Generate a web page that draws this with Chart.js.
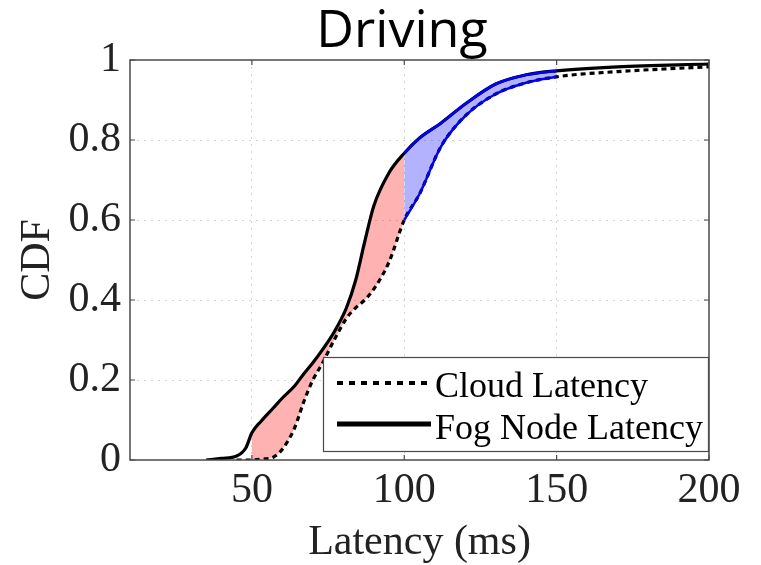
<!DOCTYPE html>
<html>
<head>
<meta charset="utf-8">
<title>Driving</title>
<script src="https://cdn.jsdelivr.net/npm/chart.js@4/dist/chart.umd.min.js"></script>
<style>
    html, body { margin: 0; padding: 0; background: #fff; }
    #wrap { width: 761px; height: 565px; }
</style>
</head>
<body>
<div id="wrap"><canvas id="cdfChart" width="761" height="565"></canvas></div>
<script>
// Data
const latency = [35, 40, 45, 48, 50, 53, 57, 60, 64, 67, 70, 73, 77, 81, 84, 87, 90, 95, 100, 105, 112, 120, 130, 140, 150, 170, 200];
const fogCdf = [0.0, 0.004, 0.01, 0.03, 0.068, 0.097, 0.13, 0.155, 0.185, 0.215, 0.243, 0.274, 0.32, 0.38, 0.448, 0.545, 0.635, 0.718, 0.767, 0.805, 0.842, 0.89, 0.94, 0.963, 0.973, 0.983, 0.99];
const cloudCdf = [null, null, 0.0, 0.0, 0.0, 0.002, 0.007, 0.027, 0.08, 0.145, 0.2, 0.24, 0.3, 0.354, 0.38, 0.4, 0.427, 0.495, 0.6, 0.665, 0.783, 0.86, 0.915, 0.943, 0.958, 0.971, 0.983];
const xTicks = [50, 100, 150, 200];
const yTicks = [0, 0.2, 0.4, 0.6, 0.8, 1];
const redRange = [50, 100];
const blueRange = [100, 150];
const seriesLabels = ['Cloud Latency', 'Fog Node Latency'];

const serif = '"Liberation Serif", "Times New Roman", serif';

// Build {x, y} points, optionally keeping only a latency range
function points(values, range) {
    return latency.map((x, i) => {
        const inside = !range || (x >= range[0] && x <= range[1]);
        return { x: x, y: inside ? values[i] : null };
    });
}

function setTicks(scale, list) {
    scale.ticks = list.map(v => ({ value: v }));
}

// Frame, inward tick marks, title and legend box (MATLAB look)
const decorPlugin = {
    id: 'decor',
    afterDraw(chart) {
        const ctx = chart.ctx;
        const a = chart.chartArea;
        const xs = chart.scales.x;
        const ys = chart.scales.y;
        ctx.save();

        // frame
        ctx.strokeStyle = '#4a4a4a';
        ctx.lineWidth = 1.5;
        ctx.setLineDash([]);
        ctx.strokeRect(a.left, a.top, a.right - a.left, a.bottom - a.top);

        // inward ticks on all sides
        ctx.lineWidth = 1.2;
        ctx.beginPath();
        xTicks.forEach(v => {
            const px = xs.getPixelForValue(v);
            ctx.moveTo(px, a.bottom); ctx.lineTo(px, a.bottom - 5);
            ctx.moveTo(px, a.top); ctx.lineTo(px, a.top + 5);
        });
        yTicks.forEach(v => {
            const py = ys.getPixelForValue(v);
            ctx.moveTo(a.left, py); ctx.lineTo(a.left + 5, py);
            ctx.moveTo(a.right, py); ctx.lineTo(a.right - 5, py);
        });
        ctx.stroke();

        // title
        ctx.fillStyle = '#000';
        ctx.font = '52px "Open Sans", "Noto Sans", sans-serif';
        ctx.textAlign = 'center';
        ctx.textBaseline = 'alphabetic';
        ctx.fillText('Driving', 402, 47);

        // legend box
        const lx = 323.5, ly = 357.5, lw = 385, lh = 94;
        ctx.fillStyle = '#fff';
        ctx.fillRect(lx, ly, lw, lh);
        ctx.strokeStyle = '#4a4a4a';
        ctx.lineWidth = 1.2;
        ctx.strokeRect(lx, ly, lw, lh);

        ctx.strokeStyle = '#000';
        ctx.lineWidth = 4;
        ctx.setLineDash([6, 6]);
        ctx.beginPath();
        ctx.moveTo(337, 383); ctx.lineTo(431, 383);
        ctx.stroke();
        ctx.setLineDash([]);
        ctx.lineWidth = 5;
        ctx.beginPath();
        ctx.moveTo(337, 424); ctx.lineTo(431, 424);
        ctx.stroke();

        ctx.fillStyle = '#000';
        ctx.font = '36px ' + serif;
        ctx.textAlign = 'left';
        ctx.fillText(seriesLabels[0], 435, 397);
        ctx.fillText(seriesLabels[1], 435, 439);
        ctx.restore();
    }
};

const lineBase = {
    pointRadius: 0,
    cubicInterpolationMode: 'monotone',
    spanGaps: false
};

new Chart(document.getElementById('cdfChart'), {
    type: 'line',
    data: {
        datasets: [
            // blue region edges (drawn on top)
            { ...lineBase, label: 'fogBlue', data: points(fogCdf, blueRange), borderColor: '#0000ff', borderWidth: 2.5, backgroundColor: 'rgba(0,0,255,0.3)', fill: '+1' },
            { ...lineBase, label: 'cloudBlue', data: points(cloudCdf, blueRange), borderColor: '#0000ff', borderWidth: 2.5, fill: false },
            // main curves
            { ...lineBase, label: seriesLabels[1], data: points(fogCdf), borderColor: '#000', borderWidth: 3.2, fill: false },
            { ...lineBase, label: seriesLabels[0], data: points(cloudCdf), borderColor: '#000', borderWidth: 3.2, borderDash: [5, 4], fill: false },
            // red region
            { ...lineBase, label: 'fogRed', data: points(fogCdf, redRange), borderWidth: 0, borderColor: 'rgba(0,0,0,0)', backgroundColor: 'rgba(255,0,0,0.3)', fill: '+1' },
            { ...lineBase, label: 'cloudRed', data: points(cloudCdf, redRange), borderWidth: 0, borderColor: 'rgba(0,0,0,0)', fill: false }
        ]
    },
    options: {
        responsive: false,
        animation: false,
        layout: { padding: { top: 60, right: 52, left: 0, bottom: 0 } },
        plugins: {
            legend: { display: false },
            tooltip: { enabled: false },
            filler: { drawTime: 'beforeDatasetsDraw' }
        },
        scales: {
            x: {
                type: 'linear',
                min: 10,
                max: 200,
                afterBuildTicks: s => setTicks(s, xTicks),
                afterFit: s => { s.height = 105; },
                grid: { color: c => (c.tick && c.tick.value < 200 ? '#d4d4d4' : 'rgba(0,0,0,0)'), lineWidth: 1, drawTicks: false },
                border: { display: false, dash: [2, 5] },
                ticks: { color: '#222', font: { family: serif, size: 42 }, padding: 6, maxRotation: 0, callback: v => String(v) },
                title: { display: true, text: 'Latency (ms)', color: '#222', font: { family: serif, size: 42, lineHeight: 1 }, padding: { top: 0, bottom: 1 } }
            },
            y: {
                min: 0,
                max: 1,
                afterBuildTicks: s => setTicks(s, yTicks),
                afterFit: s => { s.width = 130; },
                grid: { color: c => (c.tick && c.tick.value > 0 && c.tick.value < 1 ? '#d4d4d4' : 'rgba(0,0,0,0)'), lineWidth: 1, drawTicks: false },
                border: { display: false, dash: [2, 5] },
                ticks: { color: '#222', font: { family: serif, size: 42 }, padding: 9, callback: v => String(v) },
                title: { display: true, text: 'CDF', color: '#222', font: { family: serif, size: 42, lineHeight: 1 }, padding: { top: 17, bottom: 0 } }
            }
        }
    },
    plugins: [decorPlugin]
});
</script>
</body>
</html>
